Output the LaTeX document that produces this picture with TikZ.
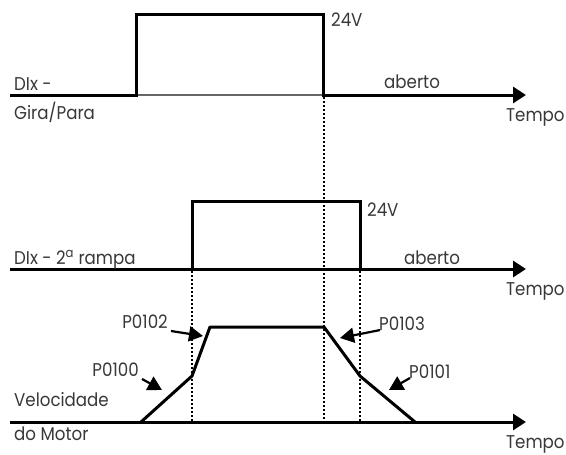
\documentclass[tikz,border=0pt]{standalone}
\usepackage{fontspec}
\setmainfont{Poppins}[FakeStretch=0.9]
\usetikzlibrary{arrows.meta}
\begin{document}
\begin{tikzpicture}[x=1pt,y=-1pt,
  ax/.style={line width=3pt,line join=miter,-{Triangle[length=13pt,width=16pt]}},
  sig/.style={line width=3pt,line join=miter},
  thinbase/.style={line width=1.2pt,black!60},
  dotline/.style={line width=1.5pt,dash pattern=on 2pt off 2pt},
  lbl/.style={inner sep=0pt,text=black!78,font=\fontsize{18.5}{22}\selectfont},
  ptr/.style={line width=2.2pt,-{Triangle[length=14pt,width=15pt]}}]
\useasboundingbox (0,0) rectangle (566,455);
% ---------- top signal
\coordinate (a0) at (10,95);
\coordinate (a1) at (136,95);
\coordinate (p1) at (136,14);
\coordinate (p2) at (323,14);
\coordinate (a2) at (323,95);
\coordinate (aend) at (526,95);
\draw[thinbase] (a1) -- (a2);
\draw[ax] (a0) -- (a1) -- (p1) -- (p2) -- (a2) -- (aend);
\node[lbl,anchor=base west] (v24a) at (331,27) {24V};
\node[lbl,anchor=base west] (dix1) at (14,90) {DIx -};
\node[lbl,anchor=base west] (gira) at (14,119) {Gira/Para};
\node[lbl,anchor=base west] (ab1) at (384,88) {aberto};
\node[lbl,anchor=base west] (t1) at (506,121) {Tempo};
% ---------- second signal
\coordinate (b0) at (10,269);
\coordinate (b1) at (192,269);
\coordinate (q1) at (192,201);
\coordinate (q2) at (360,201);
\coordinate (b2) at (360,269);
\coordinate (bend) at (526,269);
\draw[sig] (b1) -- (b2);
\draw[ax] (b0) -- (b1) -- (q1) -- (q2) -- (b2) -- (bend);
\node[lbl,anchor=base west] (v24b) at (367,216) {24V};
\node[lbl,anchor=base west] (dix2) at (14,264) {DIx - 2\textsuperscript{a} rampa};
\node[lbl,anchor=base west] (ab2) at (404,264) {aberto};
\node[lbl,anchor=base west] (t2) at (506,295) {Tempo};
% ---------- speed
\coordinate (c0) at (10,422);
\coordinate (cend) at (526,422);
\draw[ax] (c0) -- (cend);
\coordinate (s0) at (141,422);
\coordinate (s1) at (192,376);
\coordinate (s2) at (210,327);
\coordinate (s3) at (324,327);
\coordinate (s4) at (360,376);
\coordinate (s5) at (415,422);
\draw[sig,line join=round] (s0) -- (s1) -- (s2) -- (s3) -- (s4) -- (s5);
\node[lbl,anchor=base west] (vel) at (14,406) {Velocidade};
\node[lbl,anchor=base west] (mot) at (14,440) {do Motor};
\node[lbl,anchor=base west] (t3) at (506,448) {Tempo};
% ---------- dotted guides
\coordinate (d1t) at (324,97);
\coordinate (d1b) at (324,422);
\coordinate (d2t) at (192,271);
\coordinate (d2b) at (192,422);
\coordinate (d3t) at (360,271);
\coordinate (d3b) at (360,422);
\draw[dotline] (d1t) -- (d1b);
\draw[dotline] (d2t) -- (d2b);
\draw[dotline] (d3t) -- (d3b);
% ---------- parameter labels and pointers
\node[lbl,anchor=east] (p102) at (168,322) {P0102};
\node[lbl,anchor=east] (p100) at (139,370) {P0100};
\node[lbl,anchor=west] (p103) at (379,324) {P0103};
\node[lbl,anchor=west] (p101) at (409,372) {P0101};
\coordinate (e102) at (203,336);
\coordinate (e100) at (162,390);
\coordinate (e103) at (340,338);
\coordinate (e101) at (389,390);
\draw[ptr] (p102.south east) ++(3,2) coordinate (f102) -- (e102);
\draw[ptr] (p100.south east) ++(3,2) coordinate (f100) -- (e100);
\draw[ptr] (p103.south west) ++(1,-1) coordinate (f103) -- (e103);
\draw[ptr] (p101.south west) ++(1,-1) coordinate (f101) -- (e101);
\end{tikzpicture}
\end{document}
